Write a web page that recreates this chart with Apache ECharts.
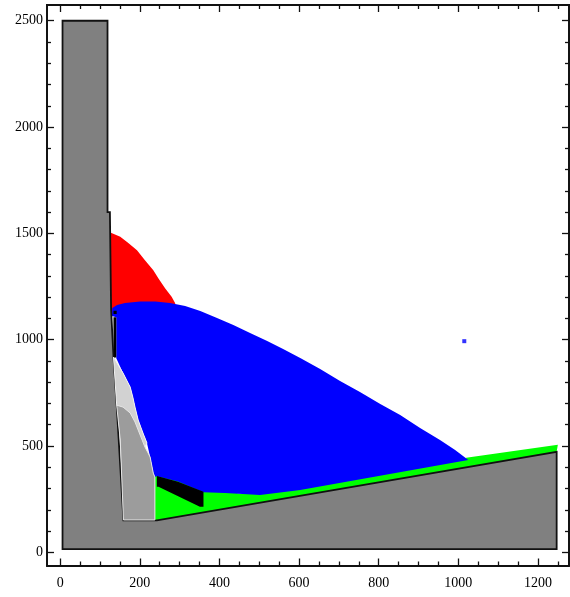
<!DOCTYPE html>
<html>
<head>
<meta charset="utf-8">
<script src="https://cdn.jsdelivr.net/npm/echarts@6/dist/echarts.min.js"></script>
<style>
  html, body { margin: 0; padding: 0; background: #fff; }
  #chart { width: 570px; height: 597px; }
</style>
</head>
<body>
<div id="chart"></div>
<script>
// Frame tick positions
const xMajorTicks = [0, 200, 400, 600, 800, 1000, 1200];
const xMinorTicks = [50, 100, 150, 250, 300, 350, 450, 500, 550, 650, 700, 750, 850, 900, 950, 1050, 1100, 1150, 1250];
const yMajorTicks = [0, 500, 1000, 1500, 2000, 2500];
const yMinorTicks = [100, 200, 300, 400, 600, 700, 800, 900, 1100, 1200, 1300, 1400, 1600, 1700, 1800, 1900, 2100, 2200, 2300, 2400];

// Region outlines, as [x, y] vertices
const wallRegion = [[6, 15], [1247, 15], [1247, 473], [243, 150], [159, 150], [142, 692], [134, 918],
  [128, 1139], [125, 1600], [119, 1600], [119, 2500], [6, 2500]];
const greenRegion = [[238, 147], [1247, 473], [1250, 506], [1024, 446], [603, 305], [452, 275], [238, 362]];
const redRegion = [[126, 1504], [151, 1484], [172, 1453], [193, 1421], [213, 1374], [234, 1327], [247, 1288],
  [264, 1241], [280, 1202], [289, 1171], [289, 1116], [126, 1116]];
const blueRegion = [[131, 1149], [143, 1163], [163, 1172], [201, 1180], [239, 1180], [276, 1172], [314, 1158],
  [352, 1135], [394, 1102], [435, 1069], [477, 1031], [520, 994], [560, 956], [603, 914], [653, 862],
  [703, 806], [753, 754], [804, 698], [854, 646], [904, 585], [954, 528], [992, 481], [1025, 434],
  [603, 293], [502, 270], [414, 279], [360, 283], [296, 333], [243, 358],
  [238, 354], [234, 372], [226, 448], [218, 514], [208, 561], [196, 622], [188, 683], [183, 726], [176, 777],
  [158, 843], [141, 913], [141, 1106], [130, 1111]];
const blackRegions = [
  [[243, 359], [296, 332], [360, 285], [360, 214], [351, 214], [247, 308], [243, 308]],
  [[134, 916], [141, 916], [141, 1106], [134, 1106]],
  [[134, 1121], [142, 1121], [142, 1136], [134, 1136]]
];
const lightGrayRegion = [[134, 918], [158, 843], [176, 777], [183, 726], [188, 683], [196, 622], [208, 561],
  [218, 514], [213, 495], [142, 692]];
const midGrayRegion = [[142, 692], [158, 683], [176, 655], [188, 613], [196, 575], [206, 528], [213, 495],
  [220, 470], [226, 448], [234, 372], [238, 354], [238, 152], [159, 152], [151, 528]];
const bluePoints = [[1015, 993]];

const X_MIN = -33, X_MAX = 1278;
const Y_MIN = -62, Y_MAX = 2574;

const labelFont = { fontFamily: 'Liberation Serif', fontSize: 14, color: '#000' };

function frameAxis(opts) {
  return Object.assign({
    type: 'value',
    splitLine: { show: false },
    axisLine: { show: true, onZero: false, lineStyle: { color: '#111', width: 1.8 } },
    axisTick: { show: true, inside: true, length: opts.tickLen, customValues: opts.ticks,
      lineStyle: { color: '#111', width: 1.3 } },
    axisLabel: opts.labels
      ? Object.assign({ show: true, customValues: opts.ticks, margin: opts.margin, formatter: v => String(v) }, labelFont)
      : { show: false, customValues: opts.ticks }
  }, opts.base);
}

const xAxes = [
  frameAxis({ base: { position: 'bottom', min: X_MIN, max: X_MAX }, ticks: xMajorTicks, tickLen: 7, labels: true, margin: 11 }),
  frameAxis({ base: { position: 'bottom', min: X_MIN, max: X_MAX }, ticks: xMinorTicks, tickLen: 4 }),
  frameAxis({ base: { position: 'top', min: X_MIN, max: X_MAX }, ticks: xMajorTicks, tickLen: 7 }),
  frameAxis({ base: { position: 'top', min: X_MIN, max: X_MAX }, ticks: xMinorTicks, tickLen: 4 })
];
const yAxes = [
  frameAxis({ base: { position: 'left', min: Y_MIN, max: Y_MAX }, ticks: yMajorTicks, tickLen: 7, labels: true, margin: 4 }),
  frameAxis({ base: { position: 'left', min: Y_MIN, max: Y_MAX }, ticks: yMinorTicks, tickLen: 4 }),
  frameAxis({ base: { position: 'right', min: Y_MIN, max: Y_MAX }, ticks: yMajorTicks, tickLen: 7 }),
  frameAxis({ base: { position: 'right', min: Y_MIN, max: Y_MAX }, ticks: yMinorTicks, tickLen: 4 })
];

// One filled polygon per series, projected through the axes
function regionSeries(name, points, style) {
  return {
    type: 'custom',
    name: name,
    coordinateSystem: 'cartesian2d',
    xAxisIndex: 0,
    yAxisIndex: 0,
    silent: true,
    animation: false,
    clip: true,
    data: points,
    renderItem: function (params, api) {
      if (params.dataIndex !== 0) return;
      return {
        type: 'polygon',
        shape: { points: points.map(p => api.coord(p)) },
        style: Object.assign({ lineJoin: 'miter' }, style)
      };
    }
  };
}

const series = [
  regionSeries('green', greenRegion, { fill: '#00ff00' }),
  regionSeries('red', redRegion, { fill: '#ff0000' }),
  regionSeries('blue', blueRegion, { fill: '#0000ff' })
];
blackRegions.forEach((r, i) => series.push(regionSeries('black' + i, r, { fill: '#000000' })));
series.push(regionSeries('wall', wallRegion, { fill: '#808080', stroke: '#111', lineWidth: 1.8 }));
series.push(regionSeries('lightGray', lightGrayRegion, { fill: '#d2d2d2', stroke: '#f2f2f2', lineWidth: 1 }));
series.push(regionSeries('midGray', midGrayRegion, { fill: '#9c9c9c', stroke: '#e6e6e6', lineWidth: 1 }));
series.push({
  type: 'scatter',
  name: 'point',
  xAxisIndex: 0,
  yAxisIndex: 0,
  data: bluePoints,
  symbol: 'rect',
  symbolSize: 4,
  itemStyle: { color: '#0000ff' },
  silent: true,
  animation: false
});

const chart = echarts.init(document.getElementById('chart'), null, { renderer: 'canvas' });
chart.setOption({
  backgroundColor: '#ffffff',
  animation: false,
  grid: { left: 47, right: 1, top: 5, bottom: 31.5, containLabel: false },
  xAxis: xAxes,
  yAxis: yAxes,
  series: series
});
</script>
</body>
</html>
